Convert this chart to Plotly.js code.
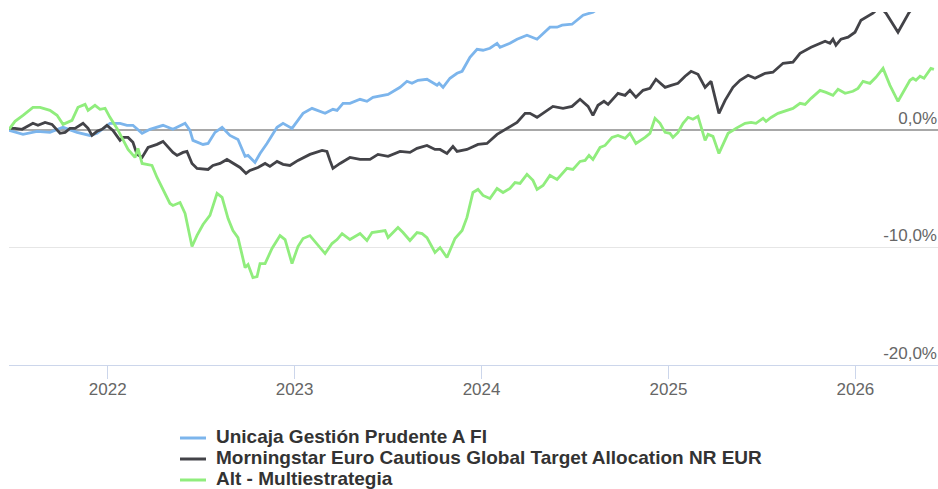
<!DOCTYPE html>
<html>
<head>
<meta charset="utf-8">
<script src="https://cdn.plot.ly/plotly-3.0.1.min.js"></script>
<style>html,body{margin:0;padding:0;background:#fff;}#chart{width:938px;height:489px;}</style>
</head>
<body>
<div id="chart"></div>
<script>
// Time as decimal years
const seriesNames = ["Unicaja Gestión Prudente A FI", "Morningstar Euro Cautious Global Target Allocation NR EUR", "Alt - Multiestrategia"];
const yearTicks = [2022, 2023, 2024, 2025, 2026];
const yearLabels = ["2022", "2023", "2024", "2025", "2026"];
const pctTicks = [-20, -10, 0, 10];
const pctLabels = ["-20,0%", "-10,0%", "0,0%", ""];

const blueT = [2021.472,2021.547,2021.622,2021.691,2021.761,2021.836,2021.905,2021.943,2022.012,2022.066,2022.103,2022.135,2022.184,2022.226,2022.296,2022.349,2022.414,2022.440,2022.456,2022.510,2022.537,2022.574,2022.612,2022.654,2022.697,2022.735,2022.751,2022.788,2022.815,2022.852,2022.906,2022.938,2022.986,2023.045,2023.093,2023.163,2023.205,2023.227,2023.259,2023.296,2023.350,2023.387,2023.419,2023.500,2023.564,2023.601,2023.628,2023.660,2023.708,2023.762,2023.773,2023.794,2023.831,2023.869,2023.896,2023.938,2023.976,2024.008,2024.045,2024.083,2024.099,2024.152,2024.190,2024.243,2024.297,2024.366,2024.404,2024.431,2024.484,2024.543,2024.596,2024.650,2024.750,2024.900,2025.100,2025.270,2025.500,2025.800,2026.100,2026.300,2026.442];
const blueV = [-0.06,-0.40,-0.14,-0.23,0.20,-0.23,-0.49,-0.31,0.54,0.54,0.37,0.37,-0.31,0.03,0.37,0.03,0.54,-0.06,-0.91,-1.26,-1.17,-0.23,0.20,-0.49,-0.83,-2.27,-2.19,-2.78,-2.02,-1.17,0.20,0.54,0.11,1.39,1.81,1.39,1.73,1.64,2.24,2.24,2.58,2.41,2.75,3.00,3.60,4.11,3.94,4.19,4.28,3.77,3.94,3.60,4.37,4.79,4.96,6.15,6.83,6.75,6.92,7.34,7.00,7.34,7.69,8.03,7.69,8.71,8.71,8.88,8.96,9.73,9.98,10.6,11.2,11.6,12.5,11.8,13.5,15.0,16.5,15.5,17.0];

const blackT = [2021.472,2021.504,2021.542,2021.574,2021.600,2021.627,2021.665,2021.702,2021.745,2021.772,2021.798,2021.825,2021.868,2021.895,2021.916,2021.943,2021.970,2021.996,2022.028,2022.066,2022.082,2022.109,2022.135,2022.157,2022.184,2022.216,2022.264,2022.296,2022.323,2022.349,2022.371,2022.403,2022.424,2022.451,2022.478,2022.537,2022.563,2022.601,2022.638,2022.670,2022.708,2022.740,2022.761,2022.804,2022.842,2022.868,2022.906,2022.938,2022.975,2023.018,2023.082,2023.147,2023.173,2023.189,2023.205,2023.243,2023.296,2023.350,2023.403,2023.446,2023.500,2023.564,2023.617,2023.655,2023.708,2023.751,2023.778,2023.815,2023.847,2023.869,2023.922,2023.981,2024.029,2024.083,2024.136,2024.190,2024.233,2024.259,2024.297,2024.329,2024.382,2024.436,2024.484,2024.527,2024.570,2024.596,2024.623,2024.655,2024.677,2024.730,2024.768,2024.794,2024.826,2024.864,2024.901,2024.933,2024.982,2025.014,2025.051,2025.089,2025.121,2025.158,2025.196,2025.228,2025.270,2025.303,2025.345,2025.383,2025.426,2025.463,2025.517,2025.559,2025.613,2025.666,2025.704,2025.763,2025.811,2025.838,2025.864,2025.880,2025.896,2025.923,2025.961,2025.998,2026.030,2026.057,2026.094,2026.121,2026.140,2026.164,2026.228,2026.287,2026.340,2026.442];
const blackV = [0.11,0.11,0.03,0.28,0.54,0.37,0.62,0.45,-0.31,-0.23,0.11,0.11,0.54,0.11,-0.49,-0.14,0.03,0.37,-0.06,-0.91,-0.66,-0.66,-1.08,-2.10,-2.36,-1.51,-1.25,-1.00,-1.51,-1.93,-2.19,-1.93,-1.85,-2.87,-3.30,-3.38,-3.04,-2.87,-2.53,-2.87,-3.21,-3.72,-3.46,-3.21,-2.87,-3.12,-2.70,-2.95,-3.04,-2.61,-2.10,-1.76,-1.85,-2.61,-3.29,-2.87,-2.36,-2.53,-2.53,-2.10,-2.27,-1.85,-1.93,-1.59,-1.34,-1.68,-1.68,-2.02,-1.42,-1.85,-1.68,-1.25,-1.17,-0.40,0.11,0.62,1.39,1.39,1.05,1.39,1.98,1.81,1.98,2.58,1.98,1.22,2.07,2.41,2.15,3.09,2.92,3.34,2.75,3.34,3.51,4.28,3.60,3.77,3.94,4.54,4.96,4.71,3.60,4.11,1.39,2.49,3.60,4.20,4.62,4.37,4.79,4.88,5.64,5.73,6.49,7.00,7.34,7.51,7.34,7.69,7.18,7.69,7.86,8.28,9.30,9.56,9.90,10.3,10.3,9.90,8.28,9.95,11.0,12.0];

const greenT = [2021.472,2021.504,2021.547,2021.600,2021.638,2021.691,2021.729,2021.761,2021.809,2021.841,2021.879,2021.895,2021.932,2021.959,2021.986,2022.012,2022.050,2022.082,2022.109,2022.146,2022.162,2022.184,2022.237,2022.264,2022.296,2022.333,2022.349,2022.387,2022.414,2022.451,2022.478,2022.510,2022.547,2022.585,2022.612,2022.644,2022.670,2022.697,2022.735,2022.751,2022.777,2022.799,2022.815,2022.842,2022.879,2022.922,2022.949,2022.986,2023.018,2023.045,2023.082,2023.120,2023.163,2023.200,2023.227,2023.254,2023.296,2023.350,2023.387,2023.414,2023.446,2023.484,2023.500,2023.553,2023.580,2023.617,2023.655,2023.682,2023.708,2023.751,2023.778,2023.815,2023.858,2023.896,2023.922,2023.954,2023.981,2024.008,2024.045,2024.083,2024.115,2024.152,2024.179,2024.206,2024.243,2024.275,2024.297,2024.329,2024.366,2024.404,2024.457,2024.489,2024.527,2024.554,2024.575,2024.596,2024.634,2024.661,2024.698,2024.730,2024.768,2024.794,2024.826,2024.875,2024.901,2024.928,2024.955,2024.982,2025.008,2025.024,2025.051,2025.078,2025.105,2025.131,2025.158,2025.196,2025.212,2025.238,2025.270,2025.319,2025.345,2025.361,2025.410,2025.442,2025.468,2025.506,2025.522,2025.549,2025.586,2025.624,2025.666,2025.704,2025.731,2025.763,2025.811,2025.843,2025.880,2025.907,2025.945,2025.987,2026.014,2026.041,2026.078,2026.110,2026.148,2026.185,2026.228,2026.292,2026.308,2026.324,2026.346,2026.367,2026.388,2026.404,2026.420];
const greenV = [0.03,0.71,1.22,1.90,1.90,1.64,1.22,0.45,0.79,1.90,2.15,1.64,2.07,1.73,1.81,1.05,0.11,-0.91,-1.68,-2.36,-1.59,-2.87,-3.04,-4.06,-5.08,-6.27,-6.44,-6.19,-7.12,-9.93,-8.99,-8.06,-7.29,-5.42,-5.76,-7.55,-8.57,-9.17,-11.72,-11.46,-12.57,-12.49,-11.38,-11.38,-10.10,-9.00,-9.34,-11.38,-9.93,-9.25,-9.00,-9.68,-10.53,-9.68,-9.34,-8.83,-9.34,-8.83,-9.42,-8.74,-8.66,-8.57,-9.17,-8.31,-8.74,-9.42,-8.74,-8.83,-9.17,-10.44,-10.02,-10.87,-9.25,-8.57,-7.46,-5.34,-5.08,-5.59,-5.85,-5.00,-5.34,-5.00,-4.49,-4.57,-3.80,-4.31,-5.08,-4.74,-3.89,-4.23,-3.29,-3.38,-2.70,-2.61,-2.19,-2.53,-1.51,-1.34,-0.66,-0.49,-0.74,-0.31,-1.17,-0.66,-0.31,0.96,0.54,-0.23,-0.31,-0.66,-0.23,0.54,1.05,0.88,1.13,-0.91,-0.40,-0.57,-2.02,-0.31,-0.06,0.11,0.54,0.62,0.54,0.96,0.71,1.04,1.39,1.56,1.81,2.24,2.15,2.66,3.34,3.17,2.92,3.43,3.09,3.26,3.51,4.11,3.94,4.45,5.21,3.77,2.41,4.20,4.37,4.20,4.54,4.37,4.79,5.21,5.13];

const colors = ["#7cb5ec", "#434348", "#90ed7d"];
const xs = [blueT, blackT, greenT];
const ys = [blueV, blackV, greenV];

const traces = seriesNames.map((n, i) => ({
  type: "scatter", mode: "lines", name: n,
  x: xs[i], y: ys[i],
  line: {color: colors[i], width: 2.8},
  hoverinfo: "skip", showlegend: false
}));

// Legend drawn beneath the plot (Highcharts-style compact spacing)
const W = 938, H = 489, ML = 9, MR = 0, MT = 12, MB = 124;
const PW = W - ML - MR, PH = H - MT - MB;
const px = v => (v - ML) / PW;
const py = v => (H - MB - v) / PH;
const legendLineRows = [438, 459, 480];
const legendTextRows = [436.5, 457.5, 478];
const shapes = [], annotations = [];
seriesNames.forEach((n, i) => {
  shapes.push({type: "line", xref: "paper", yref: "paper",
    x0: px(180), x1: px(206), y0: py(legendLineRows[i]), y1: py(legendLineRows[i]),
    line: {color: colors[i], width: 3}});
  annotations.push({xref: "paper", yref: "paper", x: px(214), y: py(legendTextRows[i]),
    xanchor: "left", yanchor: "middle", showarrow: false, text: n,
    font: {size: 19, color: "#333333", weight: "bold", family: "Liberation Sans, Arial, sans-serif"}});
});

const layout = {
  width: W, height: H,
  margin: {l: ML, r: MR, t: MT, b: MB, autoexpand: false},
  paper_bgcolor: "#fff", plot_bgcolor: "#fff",
  font: {family: "Liberation Sans, Arial, sans-serif", color: "#666"},
  showlegend: false,
  shapes: shapes, annotations: annotations,
  xaxis: {
    type: "linear", range: [2021.472, 2026.442],
    tickvals: yearTicks, ticktext: yearLabels,
    showgrid: false, zeroline: false,
    showline: true, linecolor: "#ccd6eb", linewidth: 1,
    ticks: "outside", ticklen: 13, tickcolor: "#ccd6eb", tickwidth: 1,
    ticklabelstandoff: -4,
    tickfont: {size: 17, color: "#666"}
  },
  yaxis: {
    range: [-20, 10], side: "right",
    tickvals: pctTicks, ticktext: pctLabels,
    showgrid: true, gridcolor: "#e6e6e6", gridwidth: 1,
    zeroline: true, zerolinecolor: "#a8a8a8", zerolinewidth: 2,
    ticks: "", ticklabelposition: "inside top",
    ticklabelstandoff: -2,
    tickfont: {size: 17, color: "#666"}
  }
};

Plotly.newPlot("chart", traces, layout, {displayModeBar: false, staticPlot: true});
</script>
</body>
</html>
